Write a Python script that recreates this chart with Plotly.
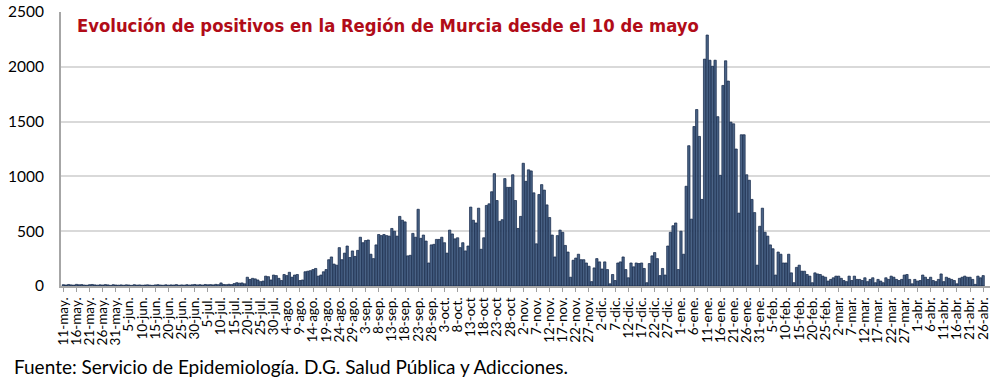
import datetime as dt
import plotly.graph_objects as go

# Daily positives, Región de Murcia, 11 May 2020 - 26 Apr 2021
may = [12, 9, 14, 10, 8, 15, 11, 13, 9, 7, 12, 14, 10, 8, 11, 9, 13, 10, 6, 12, 9]
jun = [8, 10, 7, 11, 9, 6, 12, 8, 10, 7, 9, 11, 8, 6, 10, 12, 9, 7, 11, 8,
       10, 9, 13, 7, 10, 8, 12, 9, 11, 14]
jul = [10, 12, 9, 14, 11, 13, 10, 15, 12, 28, 14, 12, 16, 13, 22, 30, 26, 28, 20,
       80, 60, 70, 65, 55, 40, 45, 90, 85, 55, 100, 95]
ago = [70, 50, 105, 95, 125, 80, 100, 105, 50, 55, 130, 135, 140, 150, 160, 90,
       100, 130, 150, 240, 265, 200, 190, 350, 240, 300, 365, 260, 320, 270, 325]
sep = [445, 395, 415, 420, 290, 250, 375, 470, 460, 470, 460, 455, 525, 500, 455,
       635, 600, 585, 275, 280, 480, 445, 700, 435, 465, 410, 210, 375, 380, 425]
oct_ = [425, 445, 395, 300, 510, 475, 430, 440, 350, 395, 320, 365, 720, 600, 575,
        710, 335, 440, 735, 750, 860, 1025, 780, 590, 605, 980, 900, 900, 1015, 780, 525]
nov = [635, 1120, 955, 1060, 1050, 850, 385, 835, 925, 875, 740, 625, 465, 265, 460,
       510, 490, 370, 310, 80, 235, 255, 290, 240, 240, 210, 180, 40, 165, 250]
dic = [220, 155, 220, 150, 20, 105, 50, 210, 220, 265, 150, 75, 210, 175, 210, 205,
       210, 160, 30, 205, 275, 305, 250, 95, 160, 100, 365, 490, 550, 575, 150]
ene = [500, 290, 910, 1280, 610, 1455, 1610, 1365, 790, 2070, 2290, 2060, 2005, 2060,
       1545, 1010, 1830, 2055, 1870, 1495, 1480, 1250, 665, 1380, 1380, 1015, 965, 790,
       670, 190, 545]
feb = [710, 490, 455, 375, 340, 100, 310, 290, 210, 210, 290, 120, 30, 170, 190, 135,
       135, 105, 90, 30, 120, 110, 105, 90, 80, 45, 60, 75]
mar = [90, 90, 70, 50, 40, 90, 50, 90, 60, 60, 50, 75, 40, 60, 75, 30, 60, 45, 30, 75,
       60, 90, 80, 60, 50, 60, 100, 105, 60, 20, 60]
abr = [45, 50, 100, 80, 60, 80, 50, 40, 60, 110, 40, 80, 70, 60, 50, 20, 70, 80, 90,
       80, 80, 60, 15, 90, 75, 95]

positivos = may + jun + jul + ago + sep + oct_ + nov + dic + ene + feb + mar + abr

start_date = dt.date(2020, 5, 11)
month_abbr = {1: "ene.", 2: "feb.", 3: "mar.", 4: "abr.", 5: "may.", 6: "jun.",
              7: "jul.", 8: "ago.", 9: "sep.", 10: "oct", 11: "nov.", 12: "dic."}

days = list(range(len(positivos)))
fechas = [start_date + dt.timedelta(days=d) for d in days]
tick_vals = days[::5]
tick_text = []
for d in tick_vals:
    f = fechas[d]
    ab = month_abbr[f.month]
    if f.month == 10 and f.day < 10:
        ab = "oct."
    tick_text.append(f"{f.day}-{ab}")

y_ticks = [0, 500, 1000, 1500, 2000, 2500]

title_text = "Evolución de positivos en la Región de Murcia desde el 10 de mayo"
source_text = "Fuente: Servicio de Epidemiología. D.G. Salud Pública y Adicciones."

fig = go.Figure(go.Bar(
    x=days, y=positivos,
    marker=dict(color="#4a6386", line=dict(color="#102446", width=0.7)),
    hoverinfo="x+y",
))

fig.update_layout(
    width=1000, height=382,
    margin=dict(l=61, r=10, t=12, b=96),
    paper_bgcolor="white", plot_bgcolor="white",
    bargap=0.12,
    showlegend=False,
    font=dict(family="Lato, Open Sans, sans-serif", color="black"),
    xaxis=dict(
        range=[-0.9, 352.6], automargin=False,
        tickmode="array", tickvals=tick_vals, ticktext=tick_text,
        tickangle=-90, tickfont=dict(size=13.5, color="black"),
        ticks="outside", ticklen=4, tickcolor="#a0a0a0", tickwidth=1,
        showline=True, linecolor="#a6a6a6", linewidth=2,
        showgrid=False, zeroline=False,
    ),
    yaxis=dict(
        range=[0, 2500], tickmode="array", tickvals=y_ticks,
        ticktext=[str(v) for v in y_ticks], automargin=False,
        tickfont=dict(size=15.5, color="black"),
        showline=True, linecolor="#a6a6a6", linewidth=2,
        showgrid=True, gridcolor="#d9d9d9", gridwidth=1.5,
        zeroline=False, ticks="", ticklabelstandoff=12,
    ),
    annotations=[
        dict(text=f"<b>{title_text}</b>", xref="paper", yref="paper",
             x=0.015, y=0.95, xanchor="left", yanchor="middle", showarrow=False,
             font=dict(family="Liberation Sans Narrow, DejaVu Sans Condensed, sans-serif",
                       size=18.3, color="#b10c18")),
        dict(text=source_text, xref="paper", yref="paper",
             x=-0.0527, y=-0.292, xanchor="left", yanchor="middle", showarrow=False,
             font=dict(family="Lato, Open Sans, sans-serif", size=19, color="black")),
    ],
)

# remove the browser's default 8 px body margin so the figure fills the window
fig.write_html("out.html", config={"displayModeBar": False},
               post_script="document.body.style.margin='0px';")
